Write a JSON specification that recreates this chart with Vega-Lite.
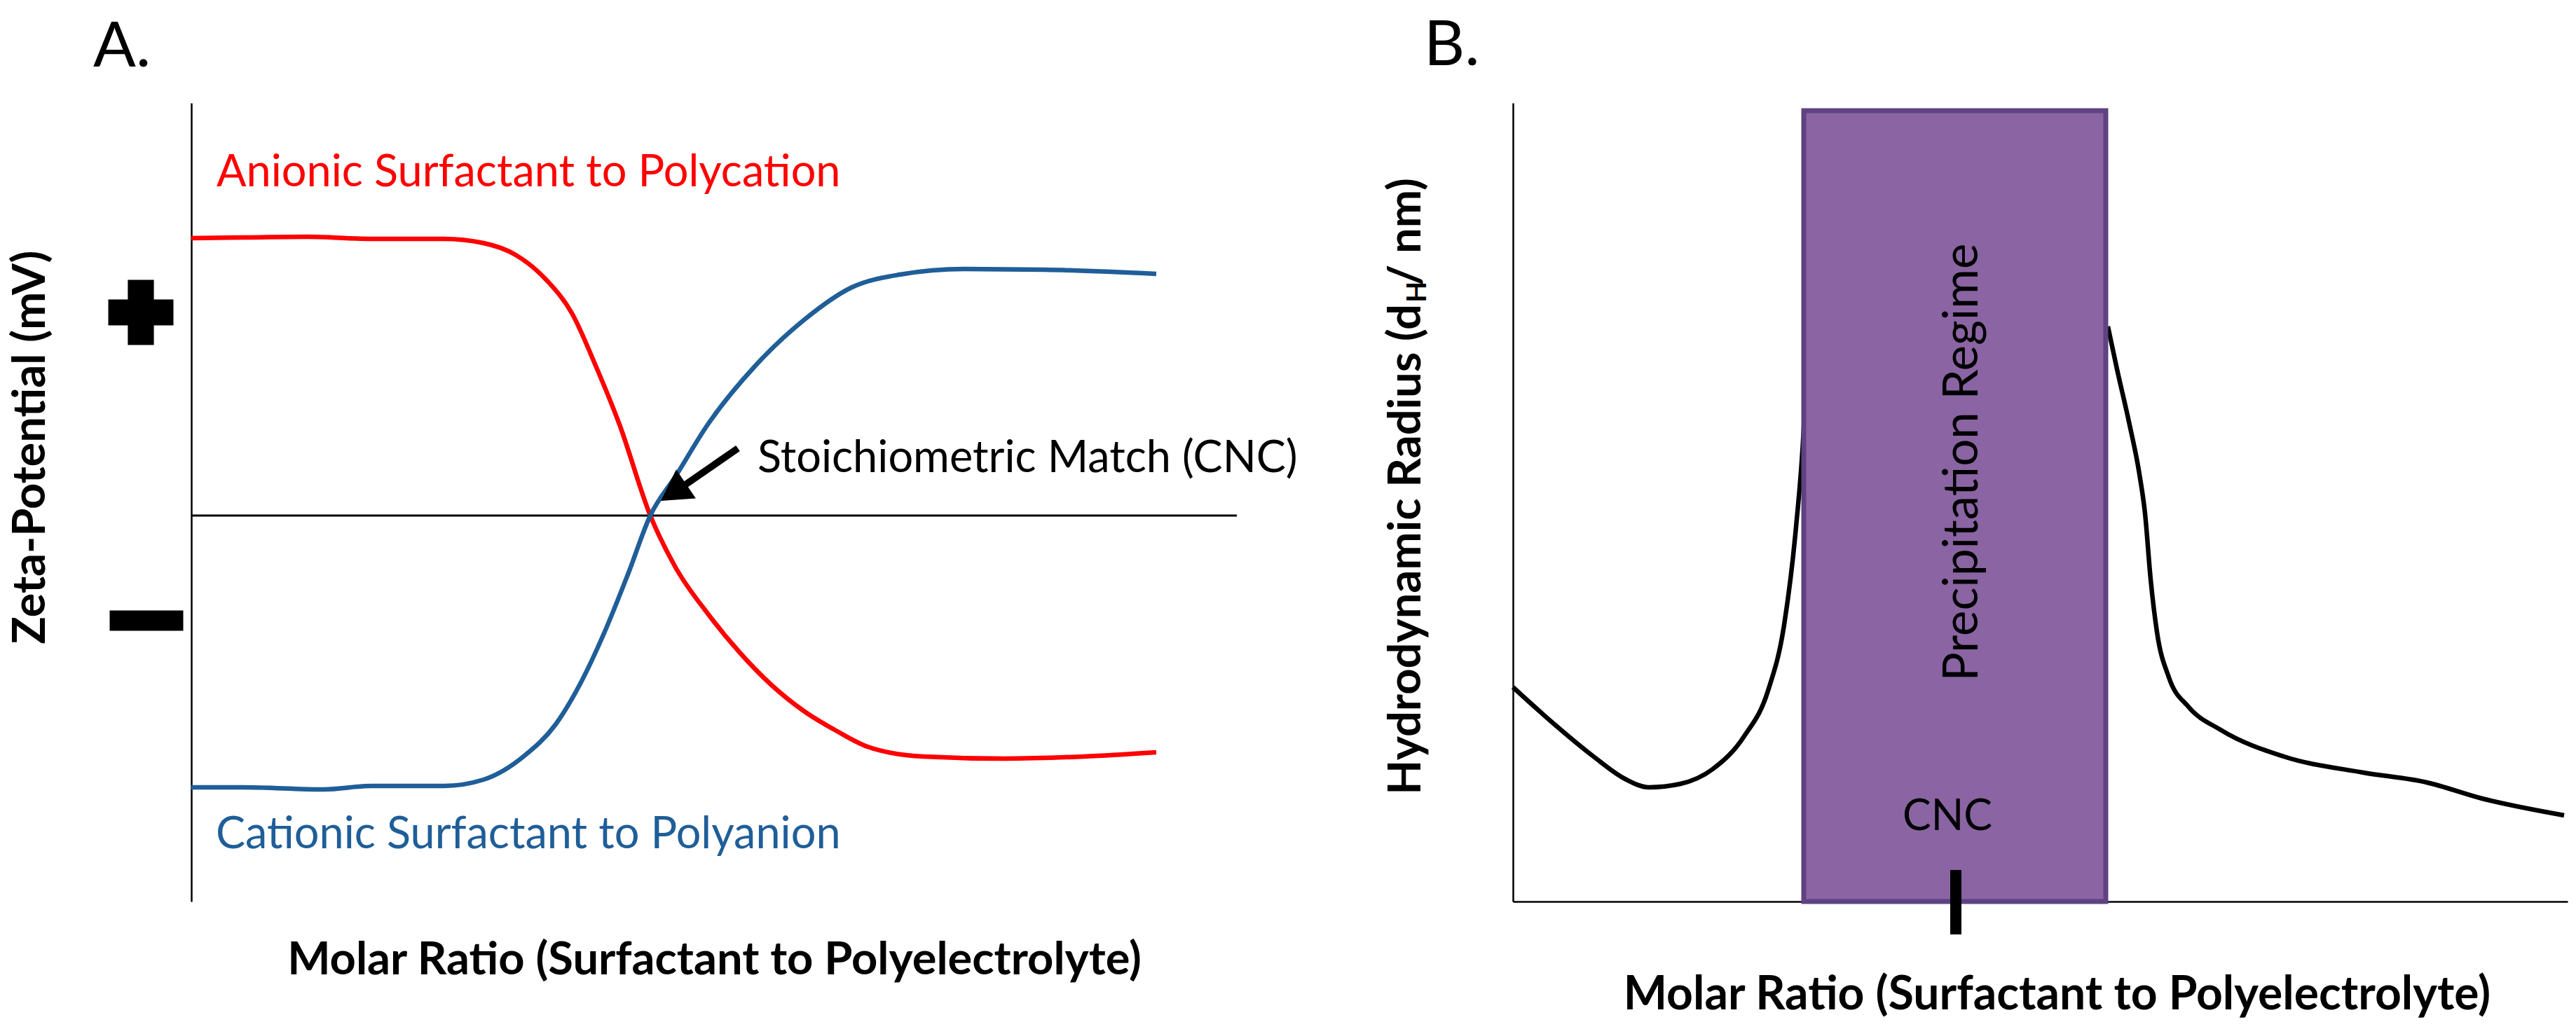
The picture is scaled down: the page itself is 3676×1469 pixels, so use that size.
{
  "$schema": "https://vega.github.io/schema/vega-lite/v6.json",
  "background": "white",
  "padding": {"left": 11, "top": 20, "right": 0, "bottom": 0},
  "autosize": {"type": "pad"},
  "bounds": "flush",
  "spacing": 394,
  "config": {
    "view": {"stroke": null},
    "font": "Lato",
    "axis": {
      "grid": false, "ticks": false, "labels": false, "tickSize": 0,
      "domainColor": "black", "domainWidth": 2.5,
      "titleFont": "Lato", "titleFontWeight": "bold", "titleFontSize": 65, "titleColor": "black"
    }
  },
  "datasets": {
    "zeta": [
      {"series": "Anionic Surfactant to Polycation", "x": 0, "y": 39.6},
      {"series": "Anionic Surfactant to Polycation", "x": 7.4, "y": 39.7},
      {"series": "Anionic Surfactant to Polycation", "x": 16.6, "y": 39.8},
      {"series": "Anionic Surfactant to Polycation", "x": 25.7, "y": 39.5},
      {"series": "Anionic Surfactant to Polycation", "x": 36.0, "y": 39.5},
      {"series": "Anionic Surfactant to Polycation", "x": 41.7, "y": 38.9},
      {"series": "Anionic Surfactant to Polycation", "x": 46.3, "y": 37.2},
      {"series": "Anionic Surfactant to Polycation", "x": 50.8, "y": 33.5},
      {"series": "Anionic Surfactant to Polycation", "x": 54.3, "y": 28.9},
      {"series": "Anionic Surfactant to Polycation", "x": 57.7, "y": 21.4},
      {"series": "Anionic Surfactant to Polycation", "x": 61.1, "y": 13.0},
      {"series": "Anionic Surfactant to Polycation", "x": 65.5, "y": 0},
      {"series": "Anionic Surfactant to Polycation", "x": 69.1, "y": -7.4},
      {"series": "Anionic Surfactant to Polycation", "x": 73.7, "y": -14.0},
      {"series": "Anionic Surfactant to Polycation", "x": 78.3, "y": -19.6},
      {"series": "Anionic Surfactant to Polycation", "x": 82.8, "y": -24.2},
      {"series": "Anionic Surfactant to Polycation", "x": 87.4, "y": -27.9},
      {"series": "Anionic Surfactant to Polycation", "x": 92.0, "y": -30.7},
      {"series": "Anionic Surfactant to Polycation", "x": 96.5, "y": -33.0},
      {"series": "Anionic Surfactant to Polycation", "x": 104.5, "y": -34.4},
      {"series": "Anionic Surfactant to Polycation", "x": 116.0, "y": -34.7},
      {"series": "Anionic Surfactant to Polycation", "x": 127.4, "y": -34.4},
      {"series": "Anionic Surfactant to Polycation", "x": 137.7, "y": -33.8},
      {"series": "Cationic Surfactant to Polyanion", "x": 0, "y": -38.8},
      {"series": "Cationic Surfactant to Polyanion", "x": 7.4, "y": -38.8},
      {"series": "Cationic Surfactant to Polyanion", "x": 18.9, "y": -39.1},
      {"series": "Cationic Surfactant to Polyanion", "x": 25.7, "y": -38.6},
      {"series": "Cationic Surfactant to Polyanion", "x": 36.0, "y": -38.6},
      {"series": "Cationic Surfactant to Polyanion", "x": 41.7, "y": -37.7},
      {"series": "Cationic Surfactant to Polyanion", "x": 47.4, "y": -34.4},
      {"series": "Cationic Surfactant to Polyanion", "x": 52.0, "y": -29.8},
      {"series": "Cationic Surfactant to Polyanion", "x": 55.4, "y": -24.2},
      {"series": "Cationic Surfactant to Polyanion", "x": 58.9, "y": -16.8},
      {"series": "Cationic Surfactant to Polyanion", "x": 62.3, "y": -8.4},
      {"series": "Cationic Surfactant to Polyanion", "x": 65.5, "y": 0},
      {"series": "Cationic Surfactant to Polyanion", "x": 69.1, "y": 5.6},
      {"series": "Cationic Surfactant to Polyanion", "x": 73.7, "y": 13.0},
      {"series": "Cationic Surfactant to Polyanion", "x": 80.5, "y": 21.4},
      {"series": "Cationic Surfactant to Polyanion", "x": 87.4, "y": 27.9},
      {"series": "Cationic Surfactant to Polyanion", "x": 94.3, "y": 32.6},
      {"series": "Cationic Surfactant to Polyanion", "x": 101.1, "y": 34.4},
      {"series": "Cationic Surfactant to Polyanion", "x": 110.3, "y": 35.2},
      {"series": "Cationic Surfactant to Polyanion", "x": 121.7, "y": 35.1},
      {"series": "Cationic Surfactant to Polyanion", "x": 137.7, "y": 34.5}
    ],
    "zetaLabels": [
      {"series": "Anionic Surfactant to Polycation", "x": 3.6, "y": 47.0},
      {"series": "Cationic Surfactant to Polyanion", "x": 3.5, "y": -47.5}
    ],
    "dls": [
      {"seg": "below CNC", "x": 0, "y": 30.6},
      {"seg": "below CNC", "x": 5.8, "y": 25.4},
      {"seg": "below CNC", "x": 11.5, "y": 20.7},
      {"seg": "below CNC", "x": 16.0, "y": 17.5},
      {"seg": "below CNC", "x": 19.4, "y": 16.3},
      {"seg": "below CNC", "x": 23.9, "y": 16.8},
      {"seg": "below CNC", "x": 28.5, "y": 18.9},
      {"seg": "below CNC", "x": 33.0, "y": 23.6},
      {"seg": "below CNC", "x": 36.4, "y": 30.1},
      {"seg": "below CNC", "x": 38.7, "y": 39.5},
      {"seg": "below CNC", "x": 40.4, "y": 53.5},
      {"seg": "below CNC", "x": 41.5, "y": 67.6},
      {"seg": "below CNC", "x": 42.1, "y": 81.6},
      {"seg": "above CNC", "x": 84.9, "y": 82.1},
      {"seg": "above CNC", "x": 86.2, "y": 76.0},
      {"seg": "above CNC", "x": 87.9, "y": 68.5},
      {"seg": "above CNC", "x": 89.4, "y": 61.0},
      {"seg": "above CNC", "x": 90.2, "y": 55.4},
      {"seg": "above CNC", "x": 91.0, "y": 46.0},
      {"seg": "above CNC", "x": 91.9, "y": 38.5},
      {"seg": "above CNC", "x": 93.6, "y": 32.0},
      {"seg": "above CNC", "x": 96.4, "y": 27.8},
      {"seg": "above CNC", "x": 101.0, "y": 24.5},
      {"seg": "above CNC", "x": 110.0, "y": 20.7},
      {"seg": "above CNC", "x": 121.4, "y": 18.4},
      {"seg": "above CNC", "x": 130.4, "y": 17.0},
      {"seg": "above CNC", "x": 138.3, "y": 14.7},
      {"seg": "above CNC", "x": 150.0, "y": 12.3}
    ]
  },
  "hconcat": [
    {
      "width": 1492,
      "height": 1140,
      "layer": [
        {
          "data": {"values": [{"zero": 0}]},
          "mark": {"type": "rule", "color": "black", "strokeWidth": 3},
          "encoding": {
            "y": {"field": "zero", "type": "quantitative", "scale": {"domain": [-55.1, 58.9], "nice": false, "zero": false},
              "axis": {"title": "Zeta-Potential (mV)", "titleAngle": 270, "titleX": -230, "titleY": 491, "titleAlign": "center", "titleBaseline": "middle"}}
          }
        },
        {
          "data": {"name": "zeta"},
          "mark": {"type": "line", "strokeWidth": 6.5, "interpolate": "monotone"},
          "encoding": {
            "x": {"field": "x", "type": "quantitative", "scale": {"domain": [0, 149.2], "nice": false, "zero": false},
              "axis": {"domain": false, "title": "Molar Ratio (Surfactant to Polyelectrolyte)", "titlePadding": 52, "titleBaseline": "top"}},
            "y": {"field": "y", "type": "quantitative"},
            "color": {"field": "series", "type": "nominal", "scale": {"domain": ["Anionic Surfactant to Polycation", "Cationic Surfactant to Polyanion"], "range": ["#ff0000", "#1f5e98"]}, "legend": null}
          }
        },
        {
          "data": {"name": "zetaLabels"},
          "mark": {"type": "text", "font": "Lato", "fontSize": 63, "align": "left", "baseline": "alphabetic"},
          "encoding": {
            "x": {"field": "x", "type": "quantitative"},
            "y": {"field": "y", "type": "quantitative"},
            "text": {"field": "series"},
            "color": {"field": "series", "type": "nominal", "legend": null}
          }
        },
        {
          "data": {"values": [{"x": 78.0, "y": 9.6, "x2": 68.9, "y2": 3.3}]},
          "mark": {"type": "rule", "color": "black", "strokeWidth": 10, "strokeCap": "butt"},
          "encoding": {
            "x": {"field": "x", "type": "quantitative"},
            "y": {"field": "y", "type": "quantitative"},
            "x2": {"field": "x2"},
            "y2": {"field": "y2"}
          }
        },
        {
          "data": {"values": [{"x": 68.8, "y": 3.3}]},
          "mark": {"type": "point", "shape": "triangle-up", "angle": 236, "size": 2500, "filled": true, "color": "black", "opacity": 1},
          "encoding": {
            "x": {"field": "x", "type": "quantitative"},
            "y": {"field": "y", "type": "quantitative"}
          }
        },
        {
          "data": {"values": [{"label": "Stoichiometric Match (CNC)", "x": 80.8, "y": 6.2}]},
          "mark": {"type": "text", "font": "Lato", "fontSize": 63, "align": "left", "baseline": "alphabetic", "color": "black"},
          "encoding": {
            "x": {"field": "x", "type": "quantitative"},
            "y": {"field": "y", "type": "quantitative"},
            "text": {"field": "label"}
          }
        },
        {
          "data": {"values": [{"sign": "positive", "x": -7.2, "y": 29.0}]},
          "mark": {"type": "point", "shape": "cross", "size": 8649, "filled": true, "color": "black", "opacity": 1},
          "encoding": {
            "x": {"field": "x", "type": "quantitative"},
            "y": {"field": "y", "type": "quantitative"}
          }
        },
        {
          "data": {"values": [{"sign": "negative", "x": -6.4, "y": -15.0}]},
          "mark": {"type": "point", "shape": "M-1,-0.276L1,-0.276L1,0.276L-1,0.276Z", "size": 11025, "filled": true, "color": "black", "opacity": 1},
          "encoding": {
            "x": {"field": "x", "type": "quantitative"},
            "y": {"field": "y", "type": "quantitative"}
          }
        },
        {
          "data": {"values": [{"panel": "A.", "x": -14.0, "y": 64.1}]},
          "mark": {"type": "text", "font": "Lato", "fontSize": 90, "align": "left", "baseline": "alphabetic", "color": "black"},
          "encoding": {
            "x": {"field": "x", "type": "quantitative"},
            "y": {"field": "y", "type": "quantitative"},
            "text": {"field": "panel"}
          }
        }
      ]
    },
    {
      "width": 1505,
      "height": 1140,
      "layer": [
        {
          "data": {"name": "dls"},
          "mark": {"type": "line", "strokeWidth": 6.5, "interpolate": "monotone", "color": "black"},
          "encoding": {
            "x": {"field": "x", "type": "quantitative", "scale": {"domain": [0, 150.5], "nice": false, "zero": false},
              "axis": {"title": "Molar Ratio (Surfactant to Polyelectrolyte)", "titleFontSize": 66, "titlePadding": 101, "titleX": 776, "titleAlign": "center", "titleBaseline": "top"}},
            "y": {"field": "y", "type": "quantitative", "scale": {"domain": [0, 114], "nice": false, "zero": false},
              "axis": {"title": null}},
            "detail": {"field": "seg"}
          }
        },
        {
          "data": {"values": [{"regime": "Precipitation Regime", "x": 41.5, "x2": 84.6, "y": 0, "y2": 112.9}]},
          "mark": {"type": "rect", "fill": "#8a64a3", "stroke": "#5f4281", "strokeWidth": 7, "opacity": 1},
          "encoding": {
            "x": {"field": "x", "type": "quantitative"},
            "x2": {"field": "x2"},
            "y": {"field": "y", "type": "quantitative"},
            "y2": {"field": "y2"}
          }
        },
        {
          "data": {"values": [{"label": "Precipitation Regime", "x": 66.3, "y": 62.7}]},
          "mark": {"type": "text", "font": "Lato", "fontSize": 69, "angle": 270, "align": "center", "baseline": "alphabetic", "color": "black"},
          "encoding": {
            "x": {"field": "x", "type": "quantitative"},
            "y": {"field": "y", "type": "quantitative"},
            "text": {"field": "label"}
          }
        },
        {
          "data": {"values": [{"label": "CNC", "x": 62.0, "y": 10.2}]},
          "mark": {"type": "text", "font": "Lato", "fontSize": 61, "align": "center", "baseline": "alphabetic", "color": "black"},
          "encoding": {
            "x": {"field": "x", "type": "quantitative"},
            "y": {"field": "y", "type": "quantitative"},
            "text": {"field": "label"}
          }
        },
        {
          "data": {"values": [{"x": 63.2, "y": 4.5, "y2": -4.7}]},
          "mark": {"type": "rule", "color": "black", "strokeWidth": 16, "strokeCap": "butt"},
          "encoding": {
            "x": {"field": "x", "type": "quantitative"},
            "y": {"field": "y", "type": "quantitative"},
            "y2": {"field": "y2"}
          }
        },
        {
          "data": {"values": [{"t": "Hydrodynamic Radius (d", "x": -13.2, "y": 85.3}]},
          "mark": {"type": "text", "font": "Lato", "fontWeight": "bold", "fontSize": 65, "angle": 270, "align": "right", "baseline": "alphabetic", "color": "black"},
          "encoding": {
            "x": {"field": "x", "type": "quantitative"},
            "y": {"field": "y", "type": "quantitative"},
            "text": {"field": "t"}
          }
        },
        {
          "data": {"values": [{"t": "H", "x": -12.4, "y": 85.5}]},
          "mark": {"type": "text", "font": "Lato", "fontWeight": "bold", "fontSize": 39, "angle": 270, "align": "left", "baseline": "alphabetic", "color": "black"},
          "encoding": {
            "x": {"field": "x", "type": "quantitative"},
            "y": {"field": "y", "type": "quantitative"},
            "text": {"field": "t"}
          }
        },
        {
          "data": {"values": [{"t": "/ nm)", "x": -13.2, "y": 87.9}]},
          "mark": {"type": "text", "font": "Lato", "fontWeight": "bold", "fontSize": 65, "angle": 270, "align": "left", "baseline": "alphabetic", "color": "black"},
          "encoding": {
            "x": {"field": "x", "type": "quantitative"},
            "y": {"field": "y", "type": "quantitative"},
            "text": {"field": "t"}
          }
        },
        {
          "data": {"values": [{"panel": "B.", "x": -12.7, "y": 119.4}]},
          "mark": {"type": "text", "font": "Lato", "fontSize": 90, "align": "left", "baseline": "alphabetic", "color": "black"},
          "encoding": {
            "x": {"field": "x", "type": "quantitative"},
            "y": {"field": "y", "type": "quantitative"},
            "text": {"field": "panel"}
          }
        }
      ]
    }
  ]
}
